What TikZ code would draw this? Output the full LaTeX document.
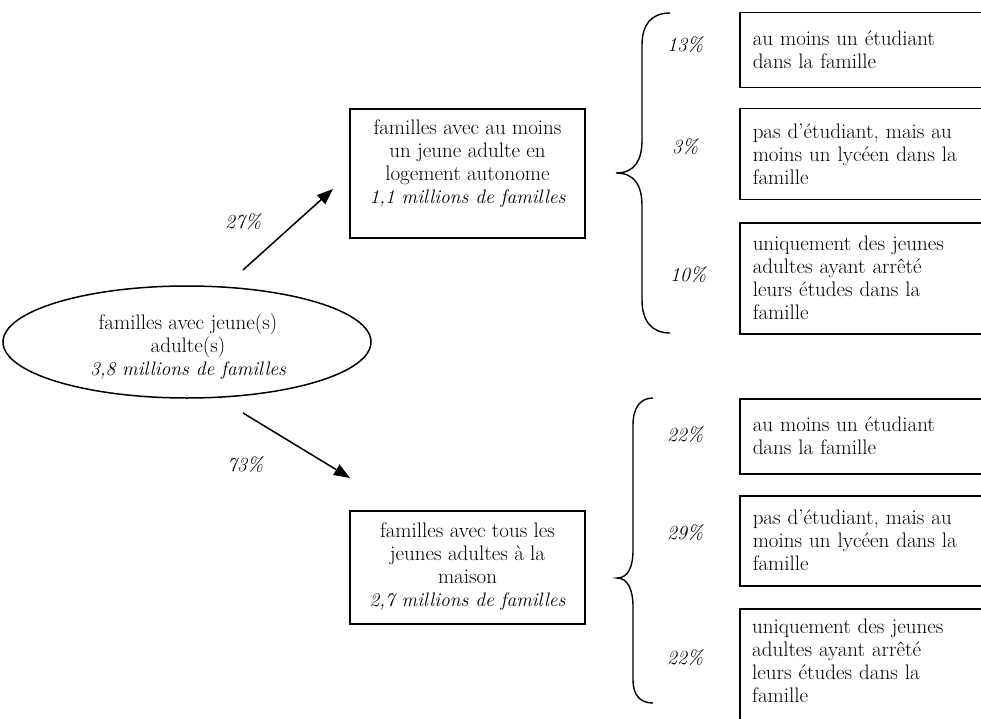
\documentclass[tikz,border=0pt]{standalone}
\usepackage{fontspec}
\usetikzlibrary{arrows.meta,shapes.geometric}
\newcommand{\itl}[1]{{\fontsize{19.5}{23}\selectfont\itshape #1}}
\begin{document}
\begin{tikzpicture}[x=1pt,y=-1pt,
  every node/.style={font=\fontsize{21}{23}\selectfont},
  box/.style={draw, line width=1.5pt, inner sep=0pt},
  rbox/.style={draw, line width=1.5pt, anchor=north west, text width=225pt, inner xsep=13pt, inner ysep=0pt, align=left, minimum width=251pt},
  rtxt/.style={anchor=west, text width=225pt, inner sep=0pt, align=left},
  pct/.style={font=\fontsize{20}{23}\selectfont\itshape, inner sep=0pt},
  arr/.style={line width=1.5pt, -{Triangle[length=16pt,width=12pt]}},
  bracestyle/.style={line width=1.4pt},
  txt/.style={align=center, inner sep=0pt}
]
\useasboundingbox (0,0) rectangle (981,719);
\clip (0,0) rectangle (981,719);

% ellipse
\node[ellipse, draw, line width=1.5pt, minimum width=368pt, minimum height=112pt, inner sep=0pt] (E) at (187,342) {};
\node[txt] (Et) at (188,347) {familles avec jeune(s)\\adulte(s)\\\itl{3,8 millions de familles}};

% middle boxes
\node[box, minimum width=235pt, minimum height=129pt] (A) at (467.5,173.5) {};
\node[txt] (At) at (467.5,164) {familles avec au moins\\un jeune adulte en\\logement autonome\\\itl{1,1 millions de familles}};
\node[box, minimum width=235pt, minimum height=113pt] (B) at (467.5,567.5) {};
\node[txt] (Bt) at (467.5,567) {familles avec tous les\\jeunes adultes à la\\maison\\\itl{2,7 millions de familles}};

% arrows
\coordinate (a1) at (243,270);
\coordinate (a2) at (333,189);
\draw[arr] (a1) -- (a2);
\coordinate (b1) at (243,413);
\coordinate (b2) at (350,478);
\draw[arr] (b1) -- (b2);
\node[pct] (p27) at (243,222) {27\%};
\node[pct] (p73) at (245,465) {73\%};

% braces
\draw[bracestyle] (670,13) .. controls (651,13) and (642,25) .. (642,45) -- (642,140)
  .. controls (642,160) and (635,173) .. (616,173)
  .. controls (635,173) and (642,186) .. (642,206) -- (642,300)
  .. controls (642,320) and (651,333) .. (670,333);
\draw[bracestyle] (653,398) .. controls (640,398) and (633,408) .. (633,425) -- (633,550)
  .. controls (633,567) and (628,578) .. (617,578)
  .. controls (628,578) and (633,590) .. (633,607) -- (633,680)
  .. controls (633,695) and (640,703) .. (653,703);

% percentages
\node[pct] (p13) at (685,45) {13\%};
\node[pct] (p3) at (685,147) {3\%};
\node[pct] (p10) at (688,275) {10\%};
\node[pct] (p22a) at (685,435) {22\%};
\node[pct] (p29) at (685,533) {29\%};
\node[pct] (p22b) at (685,658) {22\%};

% right boxes
\node[rbox, minimum height=75pt] (R1) at (739,12) {au moins un étudiant\\dans la famille};
\node[rbox, minimum height=91pt] (R2) at (739,108) {pas d’étudiant, mais au\\moins un lycéen dans la\\famille};
\node[rbox, minimum height=111pt] (R3) at (739,222) {uniquement des jeunes\\adultes ayant arrêté\\leurs études dans la\\famille};
\node[rbox, minimum height=75pt] (S1) at (739,398) {au moins un étudiant\\dans la famille};
\node[rbox, minimum height=90pt] (S2) at (739,495) {pas d’étudiant, mais au\\moins un lycéen dans la\\famille};
\node[box, anchor=north west, minimum width=251pt, minimum height=130pt] (S3) at (739,608) {};
\node[rtxt] (S3t) at (752,661) {uniquement des jeunes\\adultes ayant arrêté\\leurs études dans la\\famille};
\end{tikzpicture}
\end{document}
